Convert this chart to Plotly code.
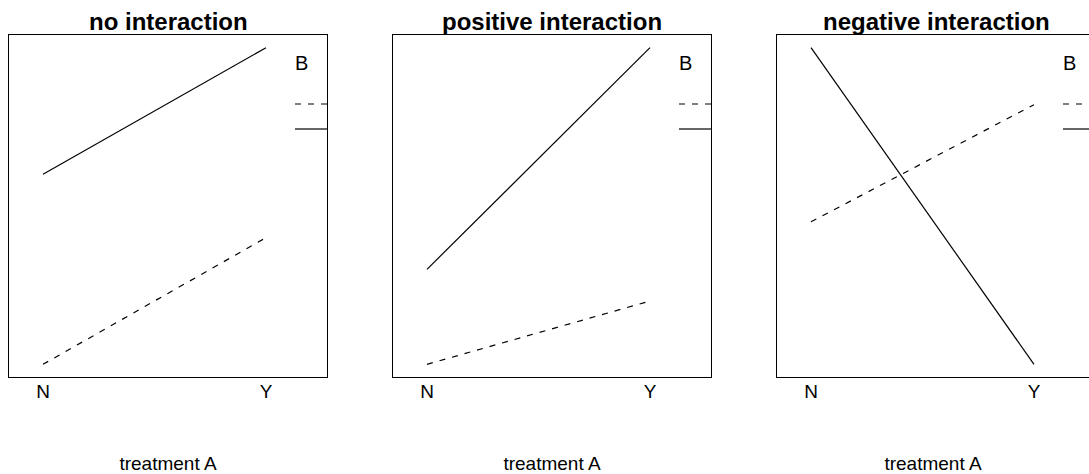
import plotly.graph_objects as go

W, H = 1089, 474

titles = ["no interaction", "positive interaction", "negative interaction"]
levels_A = ["N", "Y"]
xlab = "treatment A"
legend_title = "B"

# mean response per panel: B level 1 (solid), B level 2 (dashed)
solid_vals = [[6, 10], [3, 10], [10, 0]]
dashed_vals = [[0, 4], [0, 2], [4.5, 8.2]]

box_left = [9, 393, 777]
box_w = 318
box_top, box_bot = 35, 377
px_per_unit = 223.0
offset_N = 34.0

fig = go.Figure()
FONT = "Liberation Sans, Arial, sans-serif"
DASH = "6px,7px"

for i in range(3):
    xa = "x" if i == 0 else f"x{i+1}"
    ya = "y" if i == 0 else f"y{i+1}"
    l = box_left[i]
    r = min(l + box_w, W)
    x_pos = [1, 2]
    fig.add_trace(go.Scatter(x=x_pos, y=solid_vals[i], mode="lines",
                             line=dict(color="black", width=1.2),
                             xaxis=xa, yaxis=ya, showlegend=False, hoverinfo="skip"))
    fig.add_trace(go.Scatter(x=x_pos, y=dashed_vals[i], mode="lines",
                             line=dict(color="black", width=1.2, dash=DASH),
                             xaxis=xa, yaxis=ya, showlegend=False, hoverinfo="skip"))
    x0 = 1 - offset_N / px_per_unit
    xr = [x0, x0 + (r - l) / px_per_unit]
    dom = [l / W, r / W]
    axis_x = dict(domain=dom, range=xr, tickvals=[1, 2], ticktext=levels_A,
                  showgrid=False, zeroline=False, ticks="", showline=True,
                  mirror=True, linecolor="black", linewidth=1.4,
                  tickfont=dict(family=FONT, size=19, color="black"),
                  ticklabelstandoff=-3,
                  title=dict(text=xlab, font=dict(family=FONT, size=19, color="black"),
                             standoff=57),
                  anchor=ya, fixedrange=True)
    axis_y = dict(domain=[1 - box_bot / H, 1 - box_top / H], range=[-0.4, 10.4],
                  showticklabels=False, showgrid=False, zeroline=False, ticks="",
                  showline=True, mirror=(i < 2), linecolor="black", linewidth=1.4,
                  anchor=xa, fixedrange=True)
    fig.layout["xaxis" if i == 0 else f"xaxis{i+1}"] = axis_x
    fig.layout["yaxis" if i == 0 else f"yaxis{i+1}"] = axis_y

    # title
    fig.add_annotation(text=f"<b>{titles[i]}</b>", xref="paper", yref="paper",
                       x=(l + box_w / 2) / W, y=1 - 22 / H, showarrow=False,
                       xanchor="center", yanchor="middle",
                       font=dict(family=FONT, size=24, color="black"))
    # legend
    fig.add_annotation(text=legend_title, xref="paper", yref="paper",
                       x=(l + 292) / W, y=1 - 63 / H, showarrow=False,
                       xanchor="center", yanchor="middle",
                       font=dict(family=FONT, size=20, color="black"))
    x_end = min(l + box_w, W)
    fig.add_shape(type="line", xref="paper", yref="paper",
                  x0=(l + 286) / W, x1=x_end / W, y0=1 - 104 / H, y1=1 - 104 / H,
                  line=dict(color="black", width=1.2, dash=DASH))
    fig.add_shape(type="line", xref="paper", yref="paper",
                  x0=(l + 286) / W, x1=x_end / W, y0=1 - 129 / H, y1=1 - 129 / H,
                  line=dict(color="black", width=1.2))

fig.update_layout(width=W, height=H, margin=dict(l=0, r=0, t=0, b=0),
                  paper_bgcolor="white", plot_bgcolor="white", showlegend=False)

fig.write_html("out.html", config={"displayModeBar": False},
               post_script="document.body.style.margin='0';document.body.style.overflow='hidden';")
